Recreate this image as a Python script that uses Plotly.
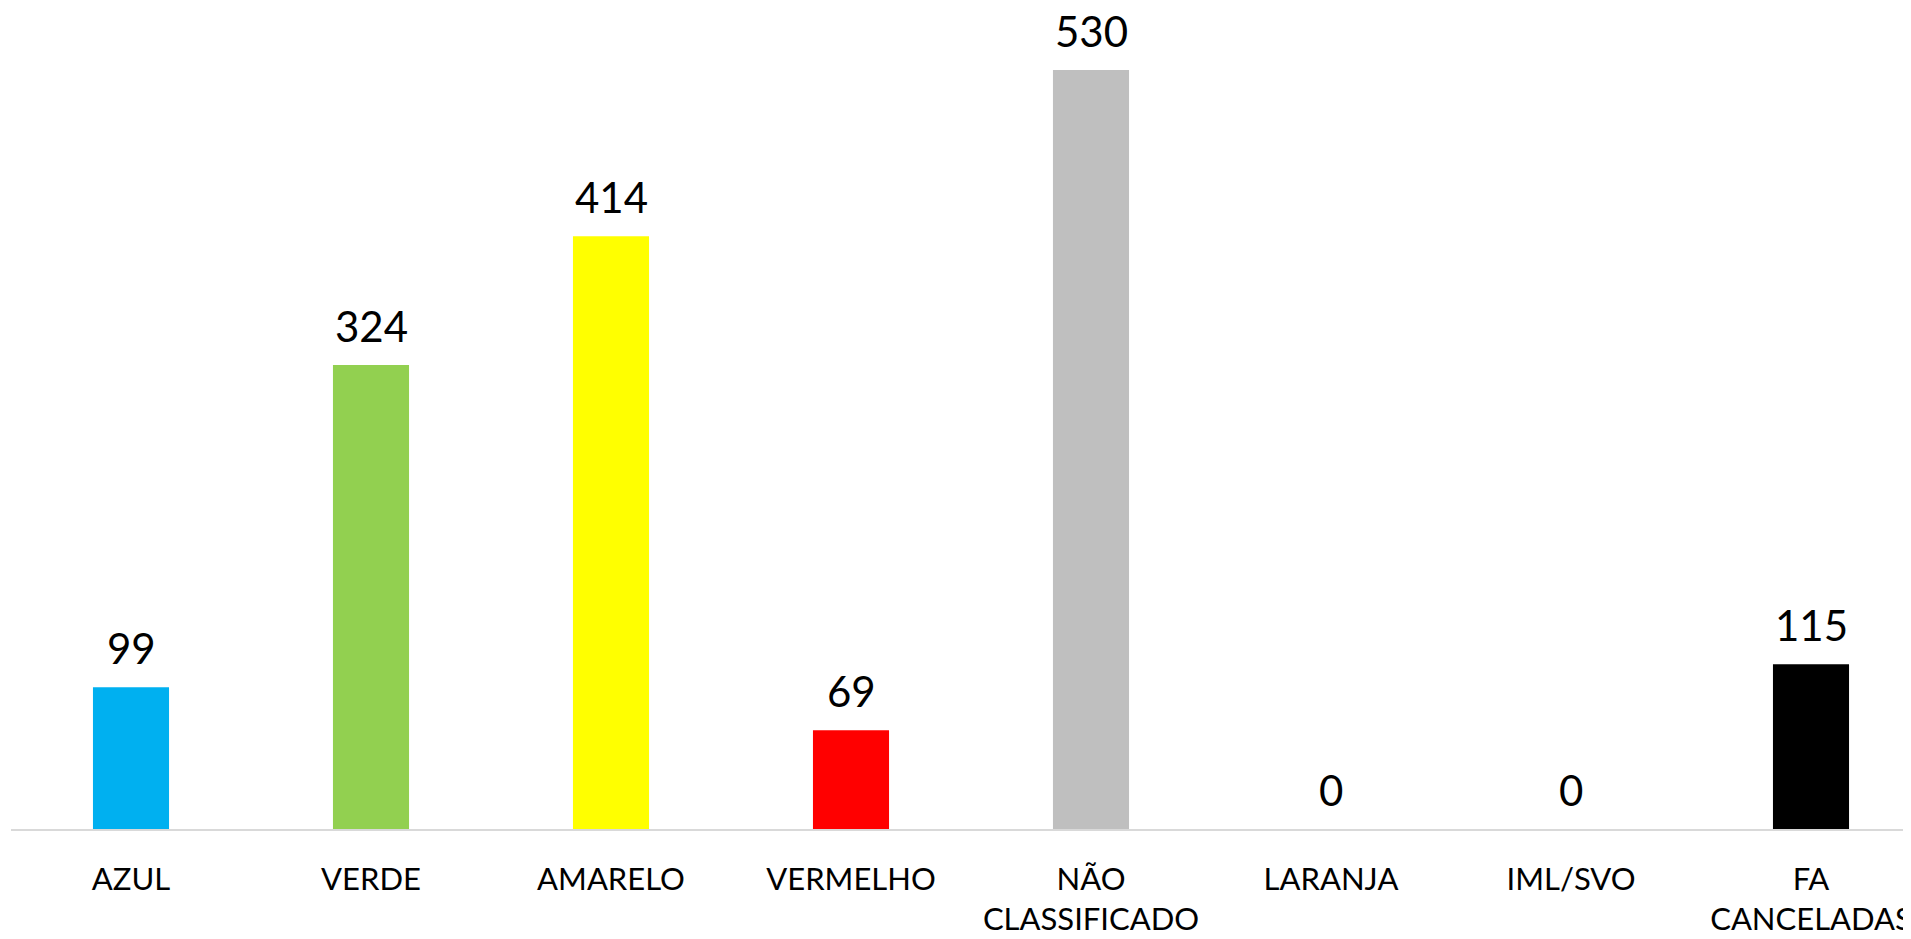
import plotly.graph_objects as go

categories = ["AZUL", "VERDE", "AMARELO", "VERMELHO", "NÃO<br>CLASSIFICADO",
              "LARANJA", "IML/SVO", "FA<br>CANCELADAS"]
values = [99, 324, 414, 69, 530, 0, 0, 115]
colors = ["#00B0F0", "#92D050", "#FFFF00", "#FF0000", "#BFBFBF",
          "#FFC000", "#7F7F7F", "#000000"]

FONT = "Lato, Liberation Sans, Arial, sans-serif"

fig = go.Figure()
fig.add_trace(go.Bar(
    x=categories, y=values, marker=dict(color=colors, line=dict(width=0)),
    width=0.317, showlegend=False, hoverinfo="x+y",
))

for c, v in zip(categories, values):
    fig.add_annotation(x=c, y=v, text=str(v), showarrow=False,
                       yanchor="bottom", yshift=12,
                       font=dict(family=FONT, size=42, color="#000000"))

fig.update_layout(
    width=1911, height=939,
    margin=dict(l=3, r=0, t=0, b=118),
    paper_bgcolor="white", plot_bgcolor="white",
    bargap=0.68,
    xaxis=dict(
        type="category", range=[-0.5, 7.45],
        showline=True, linecolor="#D9D9D9", linewidth=1.5,
        showgrid=False, zeroline=False, ticks="",
        ticklabelstandoff=22,
        tickfont=dict(family=FONT, size=31, color="#000000"),
    ),
    yaxis=dict(range=[0, 573.3], visible=False, showgrid=False, zeroline=False),
)

fig.write_html("out.html")
